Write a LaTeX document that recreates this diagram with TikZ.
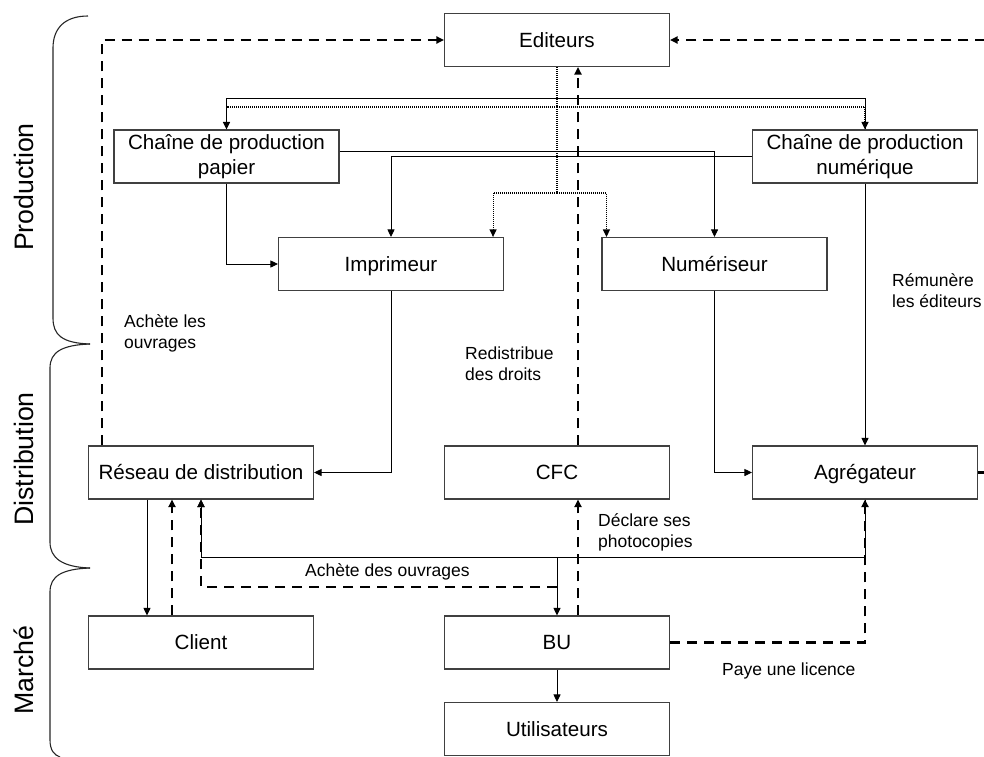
\documentclass[tikz,border=0pt]{standalone}
\usepackage{fontspec}
\setmainfont{Liberation Sans}
\usetikzlibrary{arrows.meta}
\newcommand\twolines[2]{\begin{tabular}[t]{@{}l@{}}#1\\#2\end{tabular}}
\begin{document}
\begin{tikzpicture}[x=1pt,y=-1pt,
  box/.style={draw=black!75, line width=1.1pt, minimum width=225pt, minimum height=53pt, inner sep=0pt, align=center, font=\fontsize{20.6}{24.5}\selectfont},
  one/.style={text height=14.7pt, text depth=0pt},
  con/.style={line width=0.9pt, draw=black},
  arr/.style={-{Triangle[length=7.5pt,width=7pt]}},
  dsh/.style={line width=2.6pt, dash pattern=on 10pt off 7pt},
  dtt/.style={line width=1.1pt, dash pattern=on 1pt off 1pt},
  lbl/.style={inner sep=0pt, anchor=base west, font=\fontsize{17.5}{21}\selectfont},
  side/.style={inner sep=0pt, rotate=90, anchor=base, font=\fontsize{26.7}{30}\selectfont},
  brace/.style={line width=1.1pt, draw=black!85}]
\useasboundingbox (0,0) rectangle (984,756);

% boxes
\node[box,one] (ed) at (557,40) {Editeurs};
\node[box] (pap) at (226.5,156.5) {Chaîne de production\\papier};
\node[box] (num) at (865,156.5) {Chaîne de production\\numérique};
\node[box,one] (imp) at (391,264) {Imprimeur};
\node[box,one] (nums) at (714.5,264) {Numériseur};
\node[box,one] (res) at (201,472.5) {Réseau de distribution};
\node[box,one] (cfc) at (557,472.5) {CFC};
\node[box,one] (agr) at (865,472.5) {Agrégateur};
\node[box,one] (cli) at (201,642.5) {Client};
\node[box,one] (bu) at (557,642.5) {BU};
\node[box,one] (uti) at (557,729) {Utilisateurs};

% top distribution lines
\draw[con] (pap.north) -- (226.5,98) -| (num.north);
\draw[dtt,arr] (ed.south) -- (557,107) -| (pap.north);
\draw[dtt,arr] (557,107) -| (num.north);
\draw[dtt] (557,107) -- (557,193);
\draw[dtt,arr] (557,193) -| ([xshift=-11pt]imp.north east);
\draw[dtt,arr] (557,193) -| ([xshift=5pt]nums.north west);

% production flows
\draw[con,arr] (pap.south) |- (imp.west);
\draw[con,arr] ([yshift=5.5pt]pap.east) -| (nums.north);
\draw[con,arr] (num.west) -| (imp.north);
\draw[con,arr] (num.south) -- (agr.north);
\draw[con,arr] (imp.south) |- (res.east);
\draw[con,arr] (nums.south) |- (agr.west);

% money flows (dashed)
\draw[dsh,arr] ([xshift=14pt]res.north west) |- (ed.west);
\draw[dsh,arr] (agr.east) -- (995,472.5) |- (ed.east);
\draw[dsh,arr] ([xshift=21pt]cfc.north) -- ([xshift=21pt]ed.south);
\draw[dsh,arr] ([xshift=21pt]bu.north) -- ([xshift=21pt]cfc.south);

% market
\draw[con,arr] (agr.south) -- (865,557) -| (res.south);
\draw[con,arr] (557,557) -- (bu.north);
\draw[dsh,arr] (557,587) -| (res.south);
\draw[con,arr] ([xshift=-54pt]res.south) -- ([xshift=-54pt]cli.north);
\draw[dsh,arr] ([xshift=-29pt]cli.north) -- ([xshift=-29pt]res.south);
\draw[dsh,arr] (bu.east) -| (agr.south);
\draw[con,arr] (bu.south) -- (uti.north);

% labels
\node[lbl] (l1) at (124,327) {\twolines{Achète les}{ouvrages}};
\node[lbl] (l2) at (465,359) {\twolines{Redistribue}{des droits}};
\node[lbl] (l3) at (892,286) {\twolines{Rémunère}{les éditeurs}};
\node[lbl] (l4) at (598,526) {\twolines{Déclare ses}{photocopies}};
\node[lbl] (l5) at (305,576) {Achète des ouvrages};
\node[lbl] (l6) at (722,675) {Paye une licence};

% braces
\draw[brace] (88,16) .. controls (65,16) and (53,28) .. (53,48) -- (53,318) .. controls (53,335) and (62,343) .. (90,344);
\draw[brace] (90,344) .. controls (62,345) and (50,352) .. (50,368) -- (50,542) .. controls (50,558) and (62,567) .. (90,568);
\draw[brace] (90,568) .. controls (62,569) and (50,576) .. (50,592) -- (50,740) .. controls (50,750) and (54,755) .. (60,757);

\node[side] (sp) at (33,187) {Production};
\node[side] (sd) at (33,459) {Distribution};
\node[side] (sm) at (33,670) {Marché};
\end{tikzpicture}
\end{document}
